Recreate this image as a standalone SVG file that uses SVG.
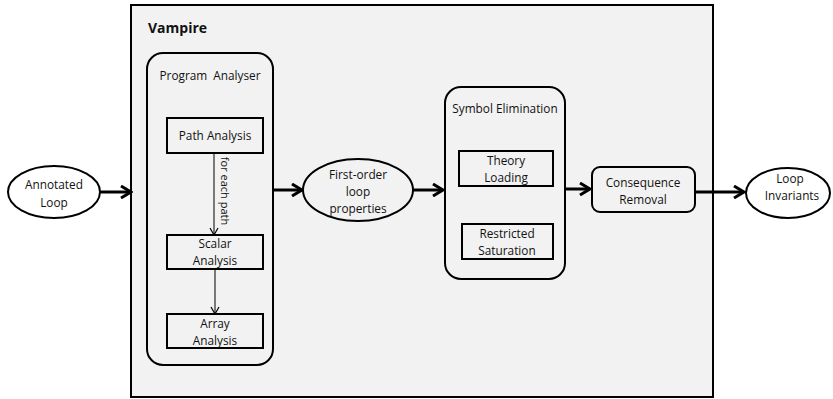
<svg xmlns="http://www.w3.org/2000/svg" width="833" height="399" viewBox="0 0 833 399">
<defs>
<style>
text{font-family:"Open Sans","Liberation Sans",sans-serif;font-size:11.8px;fill:#111;text-anchor:middle}
.box{fill:#f2f2f2;stroke:#000;stroke-width:2}
.sub{fill:#f2f2f2;stroke:#000;stroke-width:2}
.ell{fill:#fff;stroke:#000;stroke-width:2}
.big{stroke:#000;stroke-width:3;fill:none}
.thin{stroke:#000;stroke-width:1;fill:none}
</style>
<marker id="bh" viewBox="0 0 14 14" refX="12" refY="7" markerWidth="14" markerHeight="14" markerUnits="userSpaceOnUse" orient="auto">
<polyline points="2,1 12,7 2,13" fill="none" stroke="#000" stroke-width="3"/>
</marker>
<marker id="th" viewBox="0 0 10 10" refX="9" refY="5" markerWidth="10" markerHeight="10" markerUnits="userSpaceOnUse" orient="auto">
<polyline points="2,1 9,5 2,9" fill="none" stroke="#000" stroke-width="1.2"/>
</marker>
</defs>
<rect width="833" height="399" fill="#fff"/>
<g id="vampire">
<rect class="box" x="131" y="5" width="582" height="392"/>
<text x="148" y="33" style="font-weight:bold;font-size:14px;text-anchor:start">Vampire</text>
</g>
<g id="program-analyser">
<rect class="sub" x="147" y="53" width="126" height="312" rx="16"/>
<text x="210" y="80" xml:space="preserve" style="white-space:pre">Program  Analyser</text>
</g>
<g id="path-analysis">
<rect class="sub" x="167" y="118" width="96" height="35"/>
<text x="215" y="140">Path Analysis</text>
</g>
<g id="scalar-analysis">
<rect class="sub" x="167" y="235" width="96" height="34"/>
<text x="215" y="248">Scalar</text>
<text x="215" y="265">Analysis</text>
</g>
<g id="array-analysis">
<rect class="sub" x="167" y="314" width="96" height="34"/>
<text x="215" y="328">Array</text>
<text x="215" y="345">Analysis</text>
</g>
<g id="annotated-loop">
<ellipse class="ell" cx="54" cy="192" rx="46" ry="26"/>
<text x="54" y="189">Annotated</text>
<text x="54" y="207">Loop</text>
</g>
<g id="first-order">
<ellipse class="sub" cx="358" cy="190" rx="55" ry="31"/>
<text x="358" y="179">First-order</text>
<text x="358" y="196">loop</text>
<text x="358" y="213">properties</text>
</g>
<g id="symbol-elimination">
<rect class="sub" x="445" y="87" width="120" height="192" rx="16"/>
<text x="505" y="113">Symbol Elimination</text>
</g>
<g id="theory-loading">
<rect class="sub" x="459" y="151" width="94" height="35"/>
<text x="506" y="165">Theory</text>
<text x="506" y="182">Loading</text>
</g>
<g id="restricted-saturation">
<rect class="sub" x="462" y="224" width="91" height="35"/>
<text x="507" y="238">Restricted</text>
<text x="507" y="255">Saturation</text>
</g>
<g id="consequence-removal">
<rect class="sub" x="592" y="167" width="103" height="45" rx="8"/>
<text x="643" y="187">Consequence</text>
<text x="643" y="204">Removal</text>
</g>
<g id="loop-invariants">
<ellipse class="ell" cx="788" cy="193" rx="42" ry="25"/>
<text x="790" y="183">Loop</text>
<text x="792" y="200">Invariants</text>
</g>
<g id="connectors">
<line class="big" x1="100" y1="192" x2="131" y2="192" marker-end="url(#bh)"/>
<line class="big" x1="273" y1="190" x2="302" y2="190" marker-end="url(#bh)"/>
<line class="big" x1="413" y1="190" x2="443" y2="190" marker-end="url(#bh)"/>
<line class="big" x1="565" y1="189" x2="590" y2="189" marker-end="url(#bh)"/>
<line class="big" x1="695" y1="192" x2="744" y2="192" marker-end="url(#bh)"/>
<line class="thin" x1="214" y1="153" x2="214" y2="235" marker-end="url(#th)"/>
<line class="thin" x1="215" y1="269" x2="215" y2="314" marker-end="url(#th)"/>
<text transform="translate(221,191) rotate(90)" style="font-size:11px">for each path</text>
</g>
</svg>
